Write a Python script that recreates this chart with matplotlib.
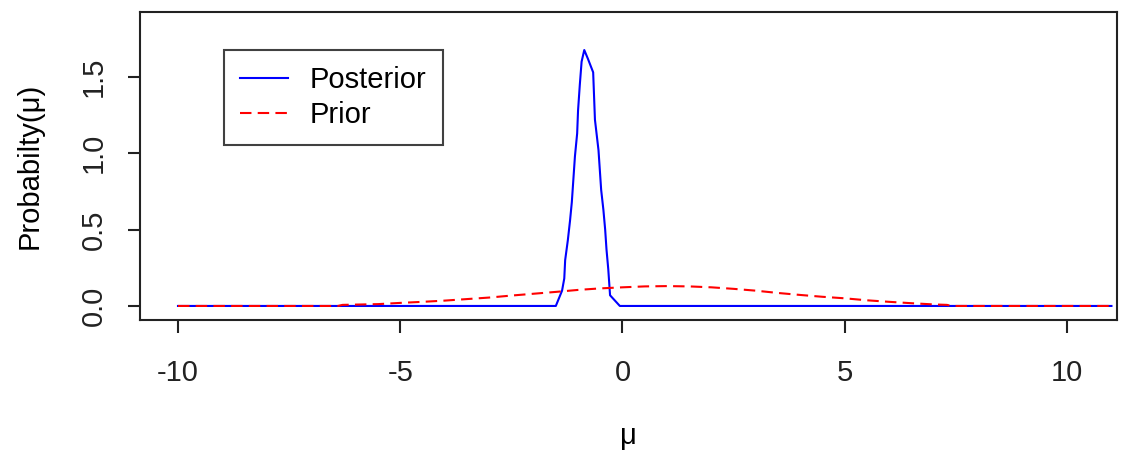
import matplotlib
matplotlib.use("Agg")
import matplotlib.pyplot as plt

plt.rcParams['font.family'] = ['Liberation Sans', 'DejaVu Sans']

# Posterior curve
post_x = [-10, -1.5, -1.36, -1.31, -1.29, -1.23, -1.18, -1.14, -1.07, -1.02, -1.0,
          -0.96, -0.92, -0.86, -0.78, -0.66, -0.62, -0.54, -0.48, -0.43, -0.39,
          -0.36, -0.32, -0.28, -0.06, 11]
post_y = [0, 0, 0.10, 0.18, 0.30, 0.43, 0.56, 0.68, 0.98, 1.13, 1.28,
          1.45, 1.60, 1.676, 1.62, 1.53, 1.22, 1.02, 0.76, 0.63, 0.50,
          0.37, 0.24, 0.07, 0, 0]

# Prior curve
prior_x = [-10, -6.4, -6.3, -5.5, -5, -4.5, -4, -3.5, -3, -2.5, -2, -1.5, -1, -0.5,
           0, 0.5, 1, 1.5, 2, 2.5, 3, 3.5, 4, 4.5, 5, 5.5, 6, 6.5, 7, 7.3, 7.4, 11]
prior_y = [0, 0, 0.007, 0.012, 0.020, 0.027, 0.035, 0.045, 0.055, 0.068, 0.080,
           0.092, 0.105, 0.115, 0.122, 0.128, 0.130, 0.128, 0.122, 0.112, 0.100,
           0.085, 0.072, 0.060, 0.050, 0.037, 0.027, 0.018, 0.010, 0.007, 0, 0]

x_ticks = [-10, -5, 0, 5, 10]
y_ticks = [0.0, 0.5, 1.0, 1.5]
y_tick_labels = ["0.0", "0.5", "1.0", "1.5"]

FS = 21

fig = plt.figure(figsize=(11.47, 4.53), dpi=100)
ax = fig.add_axes([140/1147, 133/453, 977/1147, 308/453])

ax.plot(post_x, post_y, color='#0000ff', lw=1.5, label='Posterior')
ax.plot(prior_x, prior_y, color='#ff0000', lw=1.5, dashes=(5.5, 3), label='Prior')

ax.set_xlim(-10.855, 11.125)
ax.set_ylim(-0.092, 1.925)

ax.set_xticks(x_ticks)
ax.set_xticklabels([str(v) for v in x_ticks])
ax.set_yticks(y_ticks)
ax.set_yticklabels(y_tick_labels, rotation=90, va='center')

ax.tick_params(axis='both', direction='out', length=9, width=1.5, labelsize=FS,
               colors='#222222')
ax.tick_params(axis='x', pad=19)
ax.tick_params(axis='y', pad=14)
for s in ax.spines.values():
    s.set_linewidth(1.5)
    s.set_color('#222222')

ax.set_xlabel('μ', fontsize=FS, labelpad=25)
ax.set_ylabel('Probabilty(μ)', fontsize=FS, labelpad=26)

leg = ax.legend(loc='upper left', bbox_to_anchor=((224-140)/977, (320-50)/308),
                fontsize=FS, frameon=True, fancybox=False, edgecolor='#111111',
                handlelength=1.65, handletextpad=0.75, borderpad=0.55,
                labelspacing=0.25, borderaxespad=0)
leg.get_frame().set_linewidth(1.5)

fig.savefig('out.png', dpi=100)
